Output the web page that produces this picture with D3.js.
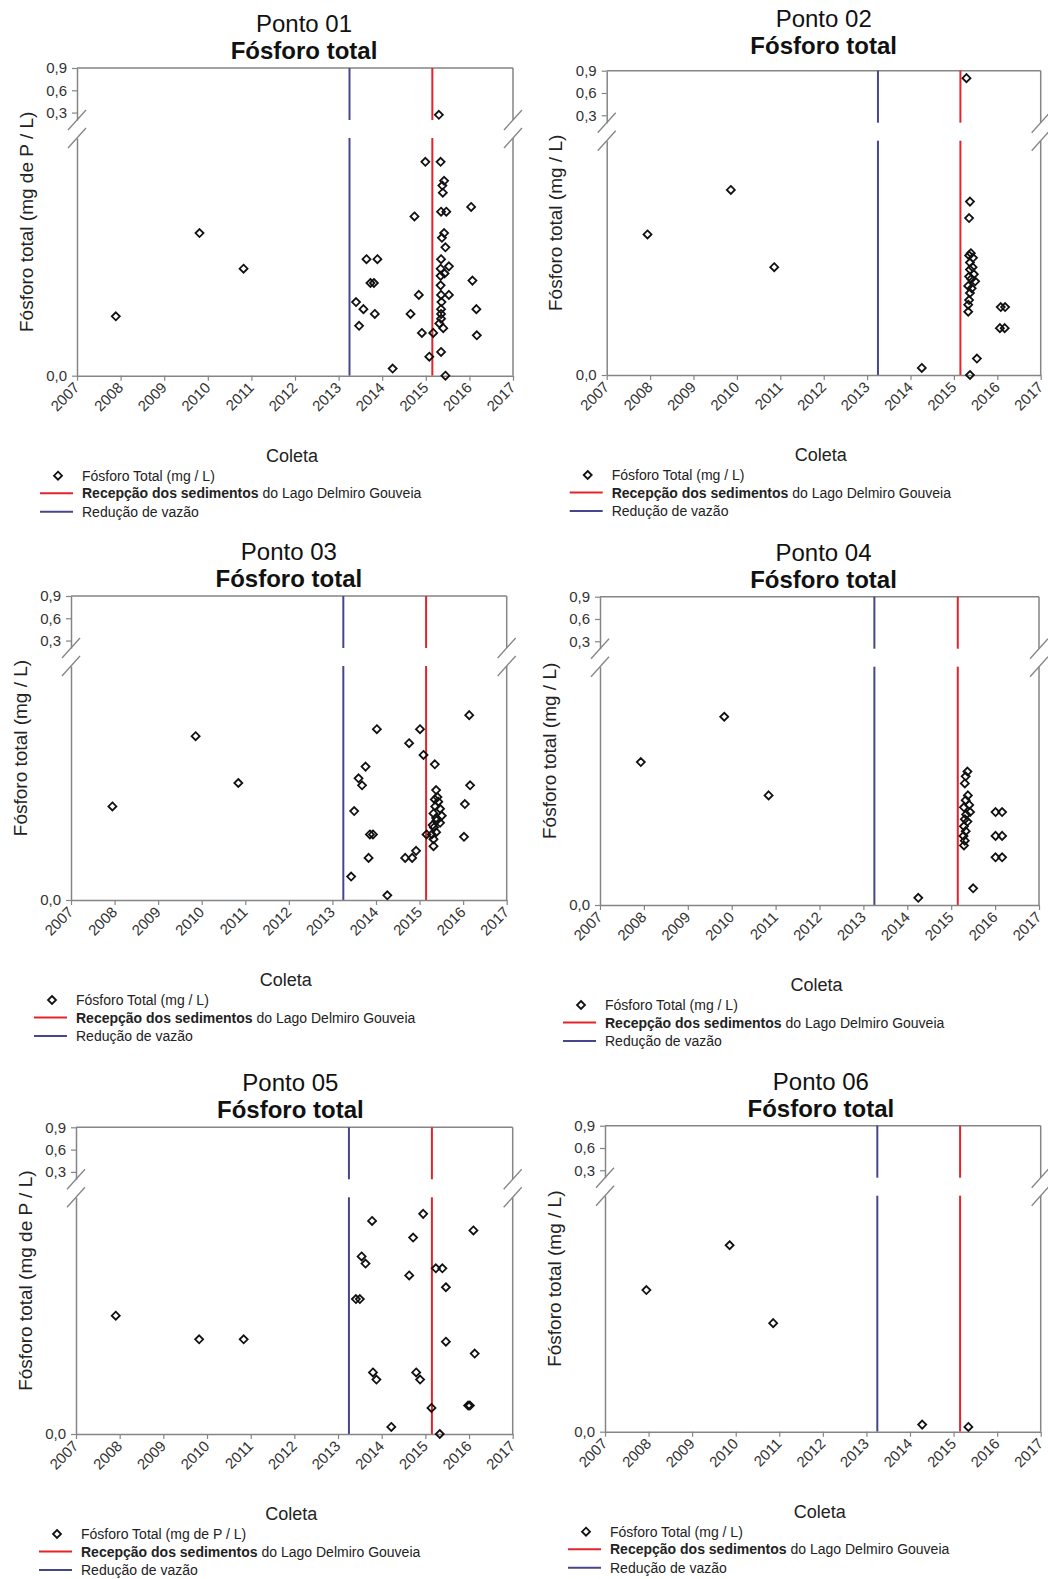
<!DOCTYPE html>
<html>
<head>
<meta charset="utf-8">
<script src="https://cdn.jsdelivr.net/npm/d3@7"></script>
<style>
  body { margin: 0; background: #fff; }
  text { font-family: "Liberation Sans", Arial, sans-serif; }
</style>
</head>
<body>
<div id="chart"></div>
<script>
// ---- data (decimal year, mg/L) ----
var yearTicks = [2007, 2008, 2009, 2010, 2011, 2012, 2013, 2014, 2015, 2016, 2017];
var upperTicks = [0.3, 0.6, 0.9];
var lowerTicks = [0];
var upperRange = [0.2, 0.9];   // above the axis break
var lowerRange = [0, 0.1];     // below the axis break
var reducaoVazao = 2013.25;
var recepcaoSedimentos = 2015.15;

var ponto01 = [
  [2007.89, 0.025], [2009.81, 0.060], [2010.82, 0.045],
  [2013.40, 0.031], [2013.47, 0.021], [2013.57, 0.028], [2013.64, 0.049], [2013.89, 0.049],
  [2013.73, 0.039], [2013.81, 0.039], [2013.83, 0.026], [2014.24, 0.003], [2014.65, 0.026],
  [2014.74, 0.067], [2014.84, 0.034], [2014.91, 0.018], [2014.99, 0.090], [2015.08, 0.008],
  [2015.17, 0.018], [2015.34, 0.090], [2015.42, 0.082], [2015.38, 0.080], [2015.39, 0.077],
  [2016.04, 0.071], [2015.35, 0.069], [2015.47, 0.069], [2015.42, 0.060], [2015.37, 0.058],
  [2015.45, 0.054], [2015.35, 0.049], [2015.53, 0.046], [2015.34, 0.045], [2015.43, 0.043],
  [2015.34, 0.042], [2016.07, 0.040], [2015.34, 0.038], [2015.35, 0.034], [2015.53, 0.034],
  [2015.36, 0.031], [2016.16, 0.028], [2015.35, 0.028], [2015.35, 0.026], [2015.35, 0.024],
  [2015.31, 0.022], [2015.40, 0.020], [2016.17, 0.017], [2015.35, 0.010], [2015.45, 0.000],
  [2015.30, 0.27]
];
var ponto02 = [
  [2007.94, 0.060], [2009.86, 0.079], [2010.86, 0.046], [2014.26, 0.003], [2015.29, 0.80],
  [2015.37, 0.074], [2015.35, 0.067], [2015.39, 0.052], [2015.35, 0.051], [2015.44, 0.050],
  [2015.37, 0.048], [2015.43, 0.046], [2015.37, 0.045], [2015.46, 0.043], [2015.35, 0.042],
  [2015.40, 0.041], [2015.49, 0.040], [2015.33, 0.038], [2015.41, 0.037], [2015.37, 0.035],
  [2015.35, 0.032], [2015.33, 0.030], [2015.33, 0.027], [2016.08, 0.029], [2016.18, 0.029],
  [2016.06, 0.020], [2016.17, 0.020], [2015.53, 0.007], [2015.37, 0.000]
];
var ponto03 = [
  [2007.95, 0.040], [2009.86, 0.070], [2010.84, 0.050],
  [2016.14, 0.079], [2014.02, 0.073], [2015.01, 0.073], [2014.76, 0.067], [2015.09, 0.062],
  [2015.35, 0.058], [2013.76, 0.057], [2013.60, 0.052], [2013.68, 0.049], [2016.16, 0.049],
  [2016.04, 0.041], [2013.50, 0.038],
  [2015.38, 0.047], [2015.41, 0.044], [2015.35, 0.043], [2015.43, 0.042], [2015.36, 0.040],
  [2015.47, 0.039], [2015.32, 0.037], [2015.51, 0.036], [2015.38, 0.035], [2015.39, 0.034],
  [2015.30, 0.032], [2015.47, 0.033], [2015.33, 0.031], [2015.38, 0.029], [2015.28, 0.028],
  [2015.32, 0.026], [2015.32, 0.023],
  [2013.86, 0.028], [2013.93, 0.028], [2015.16, 0.028], [2016.02, 0.027], [2013.83, 0.018],
  [2014.67, 0.018], [2014.83, 0.018], [2014.92, 0.021], [2013.43, 0.010], [2014.26, 0.002]
];
var ponto04 = [
  [2007.93, 0.060], [2009.83, 0.079], [2010.84, 0.046], [2014.25, 0.003], [2015.50, 0.007],
  [2015.37, 0.056], [2015.33, 0.054], [2015.31, 0.051], [2015.38, 0.046], [2015.33, 0.044],
  [2015.41, 0.042], [2015.29, 0.041], [2015.43, 0.039], [2015.34, 0.038], [2015.31, 0.036],
  [2015.37, 0.035], [2015.29, 0.033], [2015.33, 0.031], [2015.28, 0.029], [2015.31, 0.027],
  [2015.29, 0.025],
  [2016.01, 0.039], [2016.16, 0.039], [2016.01, 0.029], [2016.16, 0.029], [2016.01, 0.020],
  [2016.16, 0.020]
];
var ponto05 = [
  [2007.91, 0.050], [2009.82, 0.040], [2010.84, 0.040], [2013.41, 0.057], [2013.50, 0.057],
  [2013.54, 0.075], [2013.63, 0.072], [2013.78, 0.090], [2013.80, 0.026], [2013.88, 0.023],
  [2014.22, 0.003], [2014.63, 0.067], [2014.72, 0.083], [2014.79, 0.026], [2014.88, 0.023],
  [2014.95, 0.093], [2015.14, 0.011], [2015.24, 0.070], [2015.39, 0.070], [2015.47, 0.062],
  [2015.33, 0.000], [2015.47, 0.039], [2016.10, 0.086], [2016.13, 0.034], [2015.98, 0.012],
  [2016.02, 0.012]
];
var ponto06 = [
  [2007.95, 0.060], [2009.86, 0.079], [2010.86, 0.046], [2014.28, 0.003], [2015.34, 0.002]
];

var panels = [
  { name: "Ponto 01", data: ponto01, left: 77, right: 513, top: 68, bottom: 375.7, titleDx: 9, titleDy: 0,
    yLabel: "Fósforo total (mg de P / L)", legend: "Fósforo Total (mg / L)" },
  { name: "Ponto 02", data: ponto02, left: 606.7, right: 1040.7, top: 70.7, bottom: 375, titleDx: 0, titleDy: -8,
    yLabel: "Fósforo total (mg / L)", legend: "Fósforo Total (mg / L)" },
  { name: "Ponto 03", data: ponto03, left: 71, right: 506.7, top: 596, bottom: 900, titleDx: 0, titleDy: 0,
    yLabel: "Fósforo total (mg / L)", legend: "Fósforo Total (mg / L)" },
  { name: "Ponto 04", data: ponto04, left: 600, right: 1039, top: 596.7, bottom: 905, titleDx: 4, titleDy: 0,
    yLabel: "Fósforo total (mg / L)", legend: "Fósforo Total (mg / L)" },
  { name: "Ponto 05", data: ponto05, left: 76, right: 512.7, top: 1127.3, bottom: 1434, titleDx: -4, titleDy: 0,
    yLabel: "Fósforo total (mg de P / L)", legend: "Fósforo Total (mg de P / L)" },
  { name: "Ponto 06", data: ponto06, left: 605, right: 1040.7, top: 1125.7, bottom: 1431.7, titleDx: -2, titleDy: 0,
    yLabel: "Fósforo total (mg / L)", legend: "Fósforo Total (mg / L)" }
];

var frameColor = "#858585";
var redColor = "#e3242b";
var blueColor = "#46468a";
var diamond = "M0,-4L4,0L0,4L-4,0Z";

var fmt = d3.formatLocale({ decimal: ",", thousands: ".", grouping: [3], currency: ["R$", ""] }).format(".1f");

var svg = d3.select("#chart").append("svg")
    .attr("width", 1048)
    .attr("height", 1579);

panels.forEach(drawPanel);

function styleAxis(ax, size) {
    ax.select(".domain").attr("stroke", frameColor).attr("stroke-width", 1.5);
    ax.selectAll(".tick line").attr("stroke", frameColor).attr("stroke-width", 1.2);
    ax.selectAll(".tick text").attr("fill", "#333").style("font-size", size)
        .style("font-family", "'Liberation Sans', Arial, sans-serif");
}

function drawPanel(p) {
    var g = svg.append("g");
    var uBot = p.top + 52, lTop = p.top + 70;

    var x = d3.scaleLinear().domain([2007, 2017]).range([p.left, p.right]);
    var yUp = d3.scaleLinear().domain(upperRange).range([uBot, p.top]);
    var yLow = d3.scaleLinear().domain(lowerRange).range([p.bottom, lTop]);
    var y = function(v) { return v > lowerRange[1] ? yUp(v) : yLow(v); };

    // top frame + right frame (with break)
    g.append("line")
        .attr("x1", p.left).attr("x2", p.right).attr("y1", p.top).attr("y2", p.top)
        .attr("stroke", frameColor).attr("stroke-width", 1.5);
    [[p.top, uBot], [lTop, p.bottom]].forEach(function(seg) {
        g.append("line")
            .attr("x1", p.right).attr("x2", p.right).attr("y1", seg[0]).attr("y2", seg[1])
            .attr("stroke", frameColor).attr("stroke-width", 1.5);
    });

    // vertical event lines
    [[reducaoVazao, blueColor], [recepcaoSedimentos, redColor]].forEach(function(ev) {
        [[p.top, uBot], [lTop, p.bottom]].forEach(function(seg) {
            g.append("line")
                .attr("x1", x(ev[0])).attr("x2", x(ev[0]))
                .attr("y1", seg[0]).attr("y2", seg[1])
                .attr("stroke", ev[1]).attr("stroke-width", 2);
        });
    });

    // axes
    var axUp = g.append("g").attr("transform", "translate(" + p.left + ",0)")
        .call(d3.axisLeft(yUp).tickValues(upperTicks).tickFormat(fmt).tickSize(5).tickSizeOuter(0).tickPadding(5));
    styleAxis(axUp, "15px");
    var axLow = g.append("g").attr("transform", "translate(" + p.left + ",0)")
        .call(d3.axisLeft(yLow).tickValues(lowerTicks).tickFormat(fmt).tickSize(5).tickSizeOuter(0).tickPadding(5));
    styleAxis(axLow, "15px");
    var axX = g.append("g").attr("transform", "translate(0," + p.bottom + ")")
        .call(d3.axisBottom(x).tickValues(yearTicks).tickFormat(d3.format("d")).tickSize(5).tickSizeOuter(0));
    styleAxis(axX, "15px");
    axX.selectAll(".tick text")
        .attr("x", 0).attr("y", 0).attr("dy", null)
        .attr("transform", "translate(3,13) rotate(-45)")
        .style("text-anchor", "end");

    // axis break marks
    [p.left, p.right].forEach(function(bx) {
        [uBot, lTop].forEach(function(by) {
            g.append("line")
                .attr("x1", bx - 9).attr("y1", by + 10)
                .attr("x2", bx + 9).attr("y2", by - 10)
                .attr("stroke", frameColor).attr("stroke-width", 1.3);
        });
    });

    // points
    g.selectAll(".pt")
        .data(p.data)
        .enter().append("path")
        .attr("class", "pt")
        .attr("d", diamond)
        .attr("transform", function(d) { return "translate(" + x(d[0]) + "," + y(d[1]) + ")"; })
        .attr("fill", "none")
        .attr("stroke", "#111")
        .attr("stroke-width", 1.8);

    // titles
    var cx = (p.left + p.right) / 2 + p.titleDx;
    g.append("text")
        .attr("x", cx).attr("y", p.top - 36 + p.titleDy)
        .attr("text-anchor", "middle")
        .style("font-size", "24px")
        .attr("fill", "#111")
        .text(p.name);
    g.append("text")
        .attr("x", cx).attr("y", p.top - 9 + p.titleDy)
        .attr("text-anchor", "middle")
        .style("font-size", "24px")
        .style("font-weight", "bold")
        .attr("fill", "#111")
        .text("Fósforo total");

    // y label
    g.append("text")
        .attr("transform", "translate(" + (p.left - 51) + "," + ((p.top + p.bottom) / 2) + ") rotate(-90)")
        .attr("text-anchor", "middle")
        .attr("dy", "0.35em")
        .style("font-size", "19px")
        .attr("fill", "#222")
        .text(p.yLabel);

    // x label
    g.append("text")
        .attr("x", (p.left + p.right) / 2 - 3)
        .attr("y", p.bottom + 86)
        .attr("text-anchor", "middle")
        .style("font-size", "18px")
        .attr("fill", "#222")
        .text("Coleta");

    // legend
    var ly = p.bottom + 100;
    g.append("path")
        .attr("d", diamond)
        .attr("transform", "translate(" + (p.left - 19) + "," + ly + ")")
        .attr("fill", "none").attr("stroke", "#111").attr("stroke-width", 1.8);
    g.append("text")
        .attr("x", p.left + 5).attr("y", ly + 5)
        .style("font-size", "14px").attr("fill", "#222")
        .text(p.legend);

    g.append("line")
        .attr("x1", p.left - 37).attr("x2", p.left - 4)
        .attr("y1", ly + 17.5).attr("y2", ly + 17.5)
        .attr("stroke", redColor).attr("stroke-width", 2);
    var t2 = g.append("text")
        .attr("x", p.left + 5).attr("y", ly + 22.5)
        .style("font-size", "14px").attr("fill", "#222");
    t2.append("tspan").style("font-weight", "bold").text("Recepção dos sedimentos");
    t2.append("tspan").text(" do Lago Delmiro Gouveia");

    g.append("line")
        .attr("x1", p.left - 37).attr("x2", p.left - 4)
        .attr("y1", ly + 36).attr("y2", ly + 36)
        .attr("stroke", blueColor).attr("stroke-width", 2);
    g.append("text")
        .attr("x", p.left + 5).attr("y", ly + 41)
        .style("font-size", "14px").attr("fill", "#222")
        .text("Redução de vazão");
}
</script>
</body>
</html>
